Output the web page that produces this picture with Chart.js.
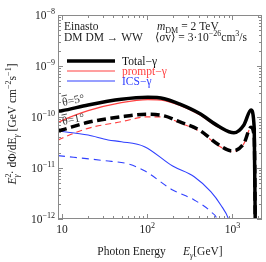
<!DOCTYPE html>
<html>
<head>
<meta charset="utf-8">
<script src="https://cdn.jsdelivr.net/npm/chart.js@4.4.1/dist/chart.umd.min.js"></script>
<style>
  html, body { margin: 0; padding: 0; background: #fff; }
  canvas { display: block; }
</style>
</head>
<body>
<canvas id="fluxChart" width="266" height="262"></canvas>
<script>
// photon energy E [GeV] and E^2 dPhi/dE [GeV cm^-2 s^-1]
const totalE5 = [9, 10, 20.3, 49.8, 101.6, 159, 238, 407, 696, 1041, 1362, 1650, 1800, 1870];
const totalF5 = [1.3e-10, 1.33e-10, 1.72e-10, 2.22e-10, 2.43e-10, 2.28e-10, 1.8e-10, 1.18e-10, 6.5e-11, 4.9e-11, 7.0e-11, 1.37e-10, 6e-11, 1e-13];

const totalE1 = [9, 10, 20.3, 49.8, 101.6, 159, 238, 407, 696, 994, 1362, 1650, 1800, 1870];
const totalF1 = [5.3e-11, 5.56e-11, 7.87e-11, 1.01e-10, 1.13e-10, 1.05e-10, 8.09e-11, 5.56e-11, 2.82e-11, 2.15e-11, 3.05e-11, 6.3e-11, 4e-11, 1e-13];

const promptE5 = [9, 10, 20.3, 49.8, 101.6, 159, 238, 407, 696, 1041, 1362, 1650, 1800, 1870];
const promptF5 = [7.8e-11, 8.5e-11, 1.33e-10, 1.91e-10, 2.2e-10, 2.1e-10, 1.7e-10, 1.12e-10, 6.2e-11, 4.8e-11, 6.9e-11, 1.36e-10, 6e-11, 1e-13];

const promptE1 = [9, 10, 20.3, 49.8, 101.6, 159, 238, 407, 696, 994, 1362, 1650, 1800, 1870];
const promptF1 = [3.5e-11, 3.82e-11, 6.0e-11, 8.09e-11, 1.01e-10, 1.0e-10, 7.7e-11, 5.3e-11, 2.7e-11, 2.1e-11, 3.0e-11, 6.2e-11, 4e-11, 1e-13];

const icsE5 = [9, 10, 20.3, 34.8, 49.8, 93, 199, 356, 557, 729, 910, 1000];
const icsF5 = [5.3e-11, 5.2e-11, 4.43e-11, 3.54e-11, 3.28e-11, 2.62e-11, 1.09e-11, 6.75e-12, 3.43e-12, 1.88e-12, 9.5e-13, 5e-13];

const icsE1 = [9, 31.8, 60, 93, 199, 356, 557, 665, 720];
const icsF1 = [1.75e-11, 1.39e-11, 1.2e-11, 8.8e-12, 3.71e-12, 2.36e-12, 1.39e-12, 9.5e-13, 5e-13];

const xTickLabels = [10, 100, 1000];
const yTickLabels = [1e-12, 1e-11, 1e-10, 1e-9, 1e-8];

const SERIF = '"Liberation Serif", "DejaVu Serif", serif';

function pts(xs, ys){
  return xs.map((x, i) => ({ x: x, y: ys[i] }));
}

// draws a run of text pieces: {t, i: italic, s: scale, dy: shift in em, adv: false to not advance}
function drawRich(ctx, parts, x, y, size, align, color){
  let w = 0;
  const items = parts.map(p => {
    const f = (p.i ? "italic " : "") + (size * (p.s || 1)) + "px " + SERIF;
    ctx.font = f;
    const pw = ctx.measureText(p.t).width;
    if(p.adv !== false) w += pw;
    return { p: p, f: f, pw: pw };
  });
  let cx = align === "center" ? x - w / 2 : (align === "right" ? x - w : x);
  ctx.textAlign = "left";
  ctx.textBaseline = "alphabetic";
  items.forEach(it => {
    ctx.font = it.f;
    ctx.fillStyle = it.p.c || color;
    ctx.fillText(it.p.t, cx, y + (it.p.dy || 0) * size);
    if(it.p.adv !== false) cx += it.pw;
  });
}

const SUP = { s: 0.7, dy: -0.42 };
const SUB = { s: 0.7, dy: 0.28 };

function supDigits(exp){
  return String(exp).replace("-", "\u2212");
}

const framePlugin = {
  id: "frame",
  afterDraw(chart){
    const ctx = chart.ctx;
    const a = chart.chartArea;
    const xs = chart.scales.x;
    const ys = chart.scales.y;
    ctx.save();

    // frame
    ctx.strokeStyle = "#8a8a8a";
    ctx.lineWidth = 1;
    ctx.strokeRect(a.left + 0.5, a.top + 0.5, a.right - a.left - 1, a.bottom - a.top - 1);

    // inward ticks, majors and minors
    ctx.beginPath();
    for(let d = 1; d <= 3; d++){
      for(let m = 1; m <= 9; m++){
        const v = m * Math.pow(10, d);
        if(v < xs.min || v > xs.max) continue;
        const px = Math.round(xs.getPixelForValue(v)) + 0.5;
        const len = m === 1 ? 5 : 3;
        ctx.moveTo(px, a.bottom); ctx.lineTo(px, a.bottom - len);
        ctx.moveTo(px, a.top); ctx.lineTo(px, a.top + len);
      }
    }
    for(let d = -12; d <= -9; d++){
      for(let m = 1; m <= 9; m++){
        const v = m * Math.pow(10, d);
        const py = Math.round(ys.getPixelForValue(v)) + 0.5;
        const len = m === 1 ? 5 : 3;
        ctx.moveTo(a.left, py); ctx.lineTo(a.left + len, py);
        ctx.moveTo(a.right, py); ctx.lineTo(a.right - len, py);
      }
    }
    ctx.stroke();

    // tick labels
    xTickLabels.forEach(v => {
      const px = xs.getPixelForValue(v);
      const e = Math.round(Math.log10(v));
      const parts = e === 1 ? [{ t: "10" }] : [{ t: "10" }, Object.assign({ t: String(e) }, SUP)];
      drawRich(ctx, parts, px, 233, 11.5, "center", "#222");
    });
    yTickLabels.forEach(v => {
      const py = ys.getPixelForValue(v);
      const e = Math.round(Math.log10(v));
      drawRich(ctx, [{ t: "10" }, Object.assign({ t: supDigits(e) }, SUP)], 55, py + 4, 11.5, "right", "#222");
    });

    // axis titles
    drawRich(ctx, [
      { t: "Photon Energy      " },
      { t: "E", i: true }, Object.assign({ t: "\u03b3", i: true }, SUB),
      { t: "[GeV]" }
    ], 160, 255, 11.5, "center", "#222");

    ctx.save();
    ctx.translate(16, 124);
    ctx.rotate(-Math.PI / 2);
    drawRich(ctx, [
      { t: "E", i: true },
      Object.assign({ t: "2", adv: false }, SUP),
      Object.assign({ t: "\u03b3", i: true }, SUB),
      { t: "\u00b7 d\u03a6/dE" },
      Object.assign({ t: "\u03b3", i: true }, SUB),
      { t: " [GeV cm" },
      Object.assign({ t: "\u22122" }, SUP),
      { t: "s" },
      Object.assign({ t: "\u22121" }, SUP),
      { t: "]" }
    ], 0, 0, 11.5, "center", "#222");
    ctx.restore();

    // annotations
    drawRich(ctx, [{ t: "Einasto" }], 64, 30, 11.5, "left", "#222");
    drawRich(ctx, [{ t: "DM DM \u2192 WW" }], 64, 41, 11.5, "left", "#222");
    drawRich(ctx, [
      { t: "m", i: true }, Object.assign({ t: "DM" }, SUB), { t: " = 2 TeV" }
    ], 157, 30, 11.5, "left", "#222");
    drawRich(ctx, [
      { t: "\u27e8" }, { t: "\u03c3", i: true }, { t: "v\u27e9 = 3\u00b710" },
      Object.assign({ t: "\u221226" }, SUP), { t: "cm" },
      Object.assign({ t: "3" }, SUP), { t: "/s" }
    ], 155, 41, 11.5, "left", "#222");

    // legend from the first three series
    [0, 2, 4].forEach((idx, k) => {
      const ds = chart.data.datasets[idx];
      const y = 61 + k * 10;
      ctx.strokeStyle = ds.borderColor;
      ctx.lineWidth = ds.borderWidth;
      ctx.setLineDash([]);
      ctx.beginPath();
      ctx.moveTo(67, y); ctx.lineTo(115, y);
      ctx.stroke();
      drawRich(ctx, [{ t: ds.label }], 122, y + 4, 11.5, "left", ds.label === "Total\u2212\u03b3" ? "#111" : ds.borderColor);
    });

    // angle labels
    [["5", 63, 106], ["1", 63, 125]].forEach(lab => {
      ctx.save();
      ctx.translate(lab[1], lab[2]);
      ctx.rotate(-0.2);
      drawRich(ctx, [{ t: "\u03b8=" + lab[0] + "\u00b0" }], 0, 0, 11.5, "left", "#333");
      ctx.strokeStyle = "#333";
      ctx.lineWidth = 0.8;
      ctx.beginPath();
      ctx.moveTo(0.5, -10); ctx.lineTo(6, -10);
      ctx.stroke();
      ctx.restore();
    });

    ctx.restore();
  }
};

function series(label, xs, ys, color, width, dash){
  return {
    label: label,
    data: pts(xs, ys),
    borderColor: color,
    borderWidth: width,
    borderDash: dash,
    pointRadius: 0,
    fill: false,
    cubicInterpolationMode: "monotone"
  };
}

new Chart(document.getElementById("fluxChart"), {
  type: "line",
  data: {
    datasets: [
      series("Total\u2212\u03b3", totalE5, totalF5, "#000000", 3.5, []),
      series("Total\u2212\u03b3 1\u00b0", totalE1, totalF1, "#000000", 3.5, [9, 4.5]),
      series("prompt\u2212\u03b3", promptE5, promptF5, "#ff4040", 1.2, []),
      series("prompt\u2212\u03b3 1\u00b0", promptE1, promptF1, "#ff4040", 1.2, [6, 4]),
      series("ICS\u2212\u03b3", icsE5, icsF5, "#3040ff", 1.1, []),
      series("ICS\u2212\u03b3 1\u00b0", icsE1, icsF1, "#3040ff", 1.1, [7, 5])
    ]
  },
  options: {
    responsive: false,
    devicePixelRatio: 1,
    animation: false,
    layout: { padding: { top: 15, right: 4, left: 0, bottom: 0 } },
    scales: {
      x: {
        type: "logarithmic",
        min: 9,
        max: 2220,
        ticks: { display: false },
        grid: { display: false },
        border: { display: false },
        afterFit(scale){ scale.height = 43; }
      },
      y: {
        type: "logarithmic",
        min: 1e-12,
        max: 1e-8,
        ticks: { display: false },
        grid: { display: false },
        border: { display: false },
        afterFit(scale){ scale.width = 58; }
      }
    },
    plugins: {
      legend: { display: false },
      tooltip: { enabled: false }
    }
  },
  plugins: [framePlugin]
});
</script>
</body>
</html>
